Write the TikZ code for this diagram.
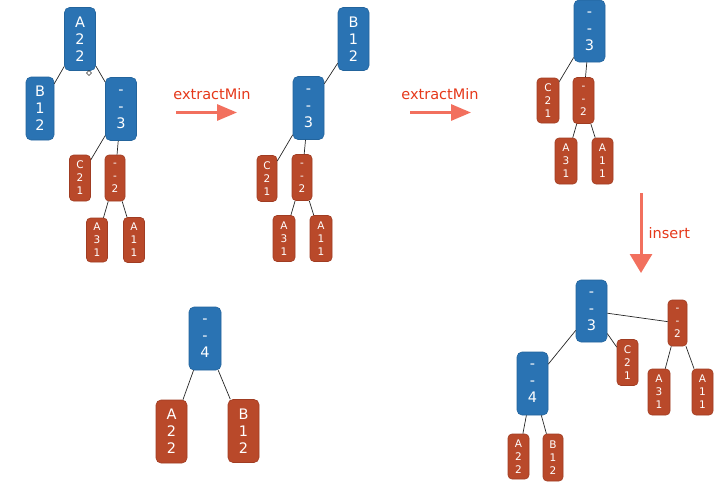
\documentclass[tikz,border=0pt]{standalone}
\usepackage{fontspec}
\setmainfont{DejaVu Sans}
\usetikzlibrary{arrows.meta}
\definecolor{nblue}{HTML}{2A73B3}
\definecolor{nblueD}{HTML}{23649C}
\definecolor{nred}{HTML}{B9492A}
\definecolor{nredD}{HTML}{A03C22}
\definecolor{lblred}{HTML}{E5381A}
\definecolor{arrred}{HTML}{F2705E}
\tikzset{
  nd/.style={rounded corners=5pt, align=center, text=white, inner sep=0pt, line width=0.6pt},
  bnode/.style={nd, fill=nblue, draw=nblueD, minimum width=31pt, minimum height=63pt, font=\fontsize{14.5}{17}\selectfont},
  rbig/.style={nd, fill=nred, draw=nredD, minimum width=31pt, minimum height=63pt, font=\fontsize{14.5}{17}\selectfont},
  rsm/.style={nd, fill=nred, draw=nredD, rounded corners=4pt, minimum width=21pt, minimum height=46pt, font=\fontsize{10.5}{13}\selectfont},
  link/.style={draw=black!85, line width=0.7pt},
  lbl/.style={text=lblred, font=\fontsize{14.5}{17}\selectfont, inner sep=0pt},
  hbig/.style={draw=arrred, line width=3pt, -{Triangle[length=20pt,width=16pt]}},
  vbig/.style={draw=arrred, line width=3pt, -{Triangle[length=19pt,width=22pt]}}
}
\begin{document}
\begin{tikzpicture}[x=1pt,y=-1pt]
\useasboundingbox (0,0) rectangle (720,493);
% ---- tree 1
\node[bnode] (t1a) at (80,39) {A\\2\\2};
\node[bnode, minimum width=28pt] (t1b) at (40,108.5) {B\\1\\2};
\node[bnode] (t1c) at (121,109) {-\\-\\3};
\node[rsm] (t1d) at (80,178) {C\\2\\1};
\node[rsm, minimum width=20pt] (t1e) at (115,178) {-\\-\\2};
\node[rsm, minimum height=44pt] (t1f) at (97,240) {A\\3\\1};
\node[rsm, minimum height=45pt] (t1g) at (134,240) {A\\1\\1};
\draw[link] (t1a) -- (t1b);
\draw[link] (t1a) -- (t1c);
\draw[link] (t1c) -- (t1d);
\draw[link] (t1c) -- (t1e);
\draw[link] (t1e) -- (t1f);
\draw[link] (t1e) -- (t1g);
\draw[black!80, line width=0.5pt] (86.5,73) -- (89,70.5) -- (91.5,73) -- (89,75.5) -- cycle;
% ---- arrow 1
\node[lbl] (l1) at (212,94) {extractMin};
\coordinate (a1s) at (176,112.5);
\coordinate (a1e) at (237,112.5);
\draw[hbig] (a1s) -- (a1e);
% ---- tree 2
\node[bnode] (t2b) at (353.5,39) {B\\1\\2};
\node[bnode] (t2c) at (308.5,108) {-\\-\\3};
\node[rsm, minimum width=20pt] (t2d) at (267,178.5) {C\\2\\1};
\node[rsm, minimum width=20pt] (t2e) at (302,177.5) {-\\-\\2};
\node[rsm, minimum width=22pt] (t2f) at (284,238.5) {A\\3\\1};
\node[rsm, minimum width=22pt] (t2g) at (321,238.5) {A\\1\\1};
\draw[link] (t2b) -- (t2c);
\draw[link] (t2c) -- (t2d);
\draw[link] (t2c) -- (t2e);
\draw[link] (t2e) -- (t2f);
\draw[link] (t2e) -- (t2g);
% ---- arrow 2
\node[lbl] (l2) at (440,94) {extractMin};
\coordinate (a2s) at (410,112.5);
\coordinate (a2e) at (471,112.5);
\draw[hbig] (a2s) -- (a2e);
% ---- tree 3
\node[bnode, minimum height=62pt] (t3c) at (589.5,31) {-\\-\\3};
\node[rsm, minimum width=22pt, minimum height=45pt] (t3d) at (548,100.5) {C\\2\\1};
\node[rsm] (t3e) at (583.5,100.5) {-\\-\\2};
\node[rsm, minimum width=22pt] (t3f) at (566,161) {A\\3\\1};
\node[rsm, minimum width=21pt] (t3g) at (602.5,161) {A\\1\\1};
\draw[link] (t3c) -- (t3d);
\draw[link] (t3c) -- (t3e);
\draw[link] (t3e) -- (t3f);
\draw[link] (t3e) -- (t3g);
% ---- insert arrow
\coordinate (a3s) at (641,193);
\coordinate (a3e) at (641,273);
\draw[vbig] (a3s) -- (a3e);
\node[lbl, anchor=west] (l3) at (648.5,233) {insert};
% ---- tree 4
\node[bnode, minimum height=62pt] (t4c) at (591.5,311) {-\\-\\3};
\node[rsm, minimum width=19pt] (t4e) at (677.5,323) {-\\-\\2};
\node[rsm] (t4d) at (627.5,362.5) {C\\2\\1};
\node[bnode] (t4h) at (532.5,383.5) {-\\-\\4};
\node[rsm, minimum width=22pt] (t4f) at (659,392) {A\\3\\1};
\node[rsm] (t4g) at (702.5,392) {A\\1\\1};
\node[rsm, minimum height=45pt] (t4i) at (518.5,456.5) {A\\2\\2};
\node[rsm, minimum width=20pt, minimum height=47pt] (t4j) at (553,457.5) {B\\1\\2};
\draw[link] (t4c) -- (t4e);
\draw[link] (t4c) -- (t4d);
\draw[link] (t4c) -- (t4h);
\draw[link] (t4e) -- (t4f);
\draw[link] (t4e) -- (t4g);
\draw[link] (t4h) -- (t4i);
\draw[link] (t4h) -- (t4j);
% ---- tree 5
\node[bnode, minimum width=32pt] (t5h) at (205,338.5) {-\\-\\4};
\node[rbig] (t5a) at (171.5,431.5) {A\\2\\2};
\node[rbig] (t5b) at (243.5,431) {B\\1\\2};
\draw[link] (t5h) -- (t5a);
\draw[link] (t5h) -- (t5b);
\end{tikzpicture}
\end{document}
